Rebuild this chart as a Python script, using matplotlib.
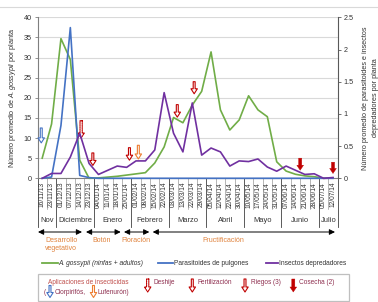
import matplotlib
matplotlib.use("Agg")
import matplotlib.pyplot as plt
from matplotlib.patches import FancyArrowPatch, Rectangle

# ---------------- data ----------------
dates = ['16/11/13', '23/11/13', '01/12/13', '07/12/13', '14/12/13', '23/12/13',
         '04/01/14', '11/01/14', '18/01/14', '25/01/14', '01/02/14', '08/02/14',
         '15/02/14', '22/02/14', '03/03/14', '13/03/14', '22/03/14', '29/03/14',
         '05/04/14', '12/04/14', '22/04/14', '30/04/14', '10/05/14', '17/05/14',
         '24/05/14', '31/05/14', '07/06/14', '14/06/14', '21/06/14', '28/06/14',
         '05/07/14', '12/07/14']
gossypii = [5.0, 13.5, 34.7, 29.5, 4.5, 0.0, 0.1, 0.3, 0.5, 0.8, 1.1, 1.4,
            3.8, 7.8, 15.1, 13.8, 18.2, 21.6, 31.4, 17.0, 12.0, 14.5, 20.5, 17.0,
            15.3, 4.1, 1.8, 1.0, 0.6, 0.4, 0.0, 0.1]
parasitoides = [0.0, 0.02, 0.82, 2.34, 0.045, 0.01, 0.0, 0.0, 0.0, 0.0, 0.0, 0.0,
                0.0, 0.0, 0.0, 0.0, 0.0, 0.0, 0.0, 0.0, 0.0, 0.0, 0.0, 0.0,
                0.0, 0.0, 0.0, 0.0, 0.0, 0.0, 0.0, 0.0]
depredadores = [0.0, 0.075, 0.075, 0.33, 0.70, 0.23, 0.06, 0.125, 0.19, 0.17, 0.27, 0.27,
                0.44, 1.33, 0.70, 0.41, 1.17, 0.36, 0.47, 0.41, 0.19, 0.27, 0.26, 0.30,
                0.175, 0.11, 0.19, 0.125, 0.06, 0.07, 0.0, 0.0125]
months = ['Nov', 'Diciembre', 'Enero', 'Febrero', 'Marzo', 'Abril', 'Mayo', 'Junio', 'Julio']
month_counts = [2, 4, 4, 4, 4, 4, 4, 4, 2]

# event arrows: (x position in category units, top, bottom in left-axis units)
clorpirifos = [(-0.1, 12.5, 8.8)]
lufenuron = [(10.25, 8.2, 4.8)]
deshije = [(4.15, 14.3, 10.0)]
fertilizacion = [(5.4, 6.3, 3.2)]
riegos = [(9.3, 7.6, 4.5), (14.4, 18.3, 15.2), (16.2, 24.0, 21.0)]
cosecha = [(27.5, 5.0, 2.0), (31.0, 4.0, 1.2)]

GREEN = '#70AD47'
BLUE = '#4472C4'
PURPLE = '#7030A0'
RED = '#C00000'
ORANGE = '#ED7D31'
TXT = '#333333'
PHASE = '#E0823C'
LEG2 = '#8E2F4F'

plt.rcParams['font.family'] = ['Liberation Sans', 'DejaVu Sans']
plt.rcParams['mathtext.fontset'] = 'custom'
plt.rcParams['mathtext.rm'] = 'Liberation Sans'
plt.rcParams['mathtext.it'] = 'Liberation Sans:italic'

W, H = 378, 302
fig = plt.figure(figsize=(W / 100, H / 100), dpi=100)


def fx(px):
    return px / W


def fy(py):
    return 1 - py / H


# overlay axes in figure fraction for free-standing elements
ov = fig.add_axes([0, 0, 1, 1])
ov.set_xlim(0, 1)
ov.set_ylim(0, 1)
ov.axis('off')

L, R, T, B = 37.5, 337.7, 17.3, 178.3
ax = fig.add_axes([fx(L), fy(B), fx(R) - fx(L), (B - T) / H])
ax2 = ax.twinx()

xs = list(range(len(dates)))
ax.set_xlim(-0.5, len(dates) - 0.5)
ax.set_ylim(0, 40)
ax2.set_ylim(0, 2.5)

ax.set_yticks(range(0, 41, 5))
ax.grid(axis='y', color='#D9D9D9', lw=0.8)
ax.set_axisbelow(True)
ax2.set_yticks([0, 0.5, 1, 1.5, 2, 2.5])
ax2.set_yticklabels(['0', '0.5', '1', '1.5', '2', '2.5'])

ax.plot(xs, gossypii, color=GREEN, lw=1.2, zorder=3, clip_on=False)
ax2.plot(xs, parasitoides, color=BLUE, lw=1.2, zorder=3, clip_on=False)
ax2.plot(xs, depredadores, color=PURPLE, lw=1.2, zorder=3, clip_on=False)

for a in (ax, ax2):
    a.spines['top'].set_visible(False)
    a.spines['left'].set_color('#7F7F7F')
    a.spines['right'].set_color('#595959')
    a.spines['bottom'].set_color('#7F7F7F')
ax2.spines['left'].set_visible(False)
ax.spines['right'].set_visible(False)
ax2.spines['bottom'].set_visible(False)

ax.tick_params(axis='y', labelsize=5.2, length=2.5, width=0.6, color='#7F7F7F',
               labelcolor=TXT, pad=1.5)
ax2.tick_params(axis='y', labelsize=5.2, length=2.5, width=0.6, color='#595959',
                labelcolor=TXT, pad=1.5)
ax.set_xticks(xs)
ax.set_xticklabels(dates, rotation=90, fontsize=4.8, color=TXT)
ax.tick_params(axis='x', length=0, pad=2.5)

ax.set_ylabel('Número promedio de $\\it{A.gossypii}$ por planta', fontsize=5.2,
              color=TXT, labelpad=4)
ax2.set_ylabel('Número promedio de parasitoides e insectos\ndepredadores por planta',
               fontsize=5.2, color=TXT, labelpad=6, linespacing=1.6)

# separators and month labels
xt = ax.get_xaxis_transform()


def ayf(py):
    return (B - py) / (B - T)


bounds = [-0.5]
for c in month_counts:
    bounds.append(bounds[-1] + c)
for i in range(len(dates) + 1):
    xb = i - 0.5
    if xb in bounds:
        ax.plot([xb, xb], [0, ayf(227)], transform=xt, color='#404040', lw=0.6,
                clip_on=False)
    else:
        ax.plot([xb, xb], [0, ayf(209)], transform=xt, color='#7F7F7F', lw=0.4,
                clip_on=False)
for k, m in enumerate(months):
    xc = (bounds[k] + bounds[k + 1]) / 2
    ax.text(xc, ayf(220), m, transform=xt, ha='center', va='center', fontsize=5.4,
            color=TXT, clip_on=False)


# event arrows
def arrow(target, x, y0, y1, kind):
    if kind == 'cosecha':
        props = dict(arrowstyle='simple,head_length=3.6,head_width=4.8,tail_width=2.2',
                     fc=RED, ec=RED, lw=0.3)
    elif kind == 'deshije':
        props = dict(arrowstyle='simple,head_length=3.6,head_width=4.6,tail_width=1.6',
                     fc='white', ec=RED, lw=0.8, ls=(0, (1.2, 0.8)))
    else:
        col = {'clorpirifos': BLUE, 'lufenuron': ORANGE}.get(kind, RED)
        props = dict(arrowstyle='simple,head_length=3.6,head_width=4.6,tail_width=1.4',
                     fc='white', ec=col, lw=0.8)
    props.update(shrinkA=0, shrinkB=0, mutation_scale=1)
    target.annotate('', xy=(x, y1), xytext=(x, y0), xycoords='data',
                    textcoords='data', arrowprops=props, annotation_clip=False)


for (x, a, b) in clorpirifos:
    arrow(ax, x, a, b, 'clorpirifos')
for (x, a, b) in lufenuron:
    arrow(ax, x, a, b, 'lufenuron')
for (x, a, b) in deshije:
    arrow(ax, x, a, b, 'deshije')
for (x, a, b) in fertilizacion:
    arrow(ax, x, a, b, 'fert')
for (x, a, b) in riegos:
    arrow(ax, x, a, b, 'riego')
for (x, a, b) in cosecha:
    arrow(ax, x, a, b, 'cosecha')

# top border line
ov.plot([0, 1], [fy(7), fy(7)], color='#D9D9D9', lw=0.8)

# phase arrows
phases = [('Desarrollo\nvegetativo', 38, 82, 61),
          ('Botón', 86, 120.7, 102),
          ('Floración', 124, 149.3, 136),
          ('Fructificación', 152.7, 335, 223)]
for name, x0, x1, xc in phases:
    ov.add_patch(FancyArrowPatch((fx(x0), fy(232)), (fx(x1), fy(232)),
                                 arrowstyle='<|-|>,head_length=2.2,head_width=1.1',
                                 mutation_scale=1.5, color='black', lw=0.7,
                                 shrinkA=0, shrinkB=0))
    ov.text(fx(xc), fy(236.5), name, ha='center', va='top', fontsize=5.0,
            color=PHASE, linespacing=1.4)

# series legend
leg = [(GREEN, 41.7, 58.3, 'A. gossypii (ninfas + adultos)', 'italic'),
       (BLUE, 157.7, 173.3, 'Parasitoides de pulgones', 'normal'),
       (PURPLE, 266, 278.3, 'Insectos depredadores', 'normal')]
for col, a, b, lab, st in leg:
    ov.plot([fx(a), fx(b)], [fy(263.3), fy(263.3)], color=col, lw=1.3)
    ov.text(fx(b + 0.5), fy(263.3), lab, ha='left', va='center', fontsize=4.8,
            color=TXT, style=st)

# event legend box
ov.add_patch(Rectangle((fx(38.3), fy(300.5)), fx(349.3) - fx(38.3), (300.5 - 274) / H,
                       fill=False, ec='#BFBFBF', lw=0.9))
ov.text(fx(88), fy(282), 'Aplicaciones de insecticidas', ha='center', va='center',
        fontsize=4.7, color='#C0504D')
ov.text(fx(44), fy(292), '(', ha='left', va='center', fontsize=4.7, color=LEG2)
arrow(ov, fx(50), fy(285.5), fy(297.5), 'clorpirifos')
ov.text(fx(55), fy(292), 'Clorpirifós,', ha='left', va='center', fontsize=4.7, color=LEG2)
arrow(ov, fx(93.5), fy(285.5), fy(297.5), 'lufenuron')
ov.text(fx(98), fy(292), 'Lufenurón)', ha='left', va='center', fontsize=4.7, color=LEG2)

items = [('deshije', 147.7, 154, 'Deshije'),
         ('fert', 192.3, 198, 'Fertilización'),
         ('riego', 245, 250.7, 'Riegos (3)'),
         ('cosecha', 293.3, 299, 'Cosecha (2)')]
for kind, xa, xtx, lab in items:
    arrow(ov, fx(xa), fy(279), fy(292), kind)
    ov.text(fx(xtx), fy(282), lab, ha='left', va='center', fontsize=4.7, color=LEG2)

fig.savefig('out.png', dpi=100)
